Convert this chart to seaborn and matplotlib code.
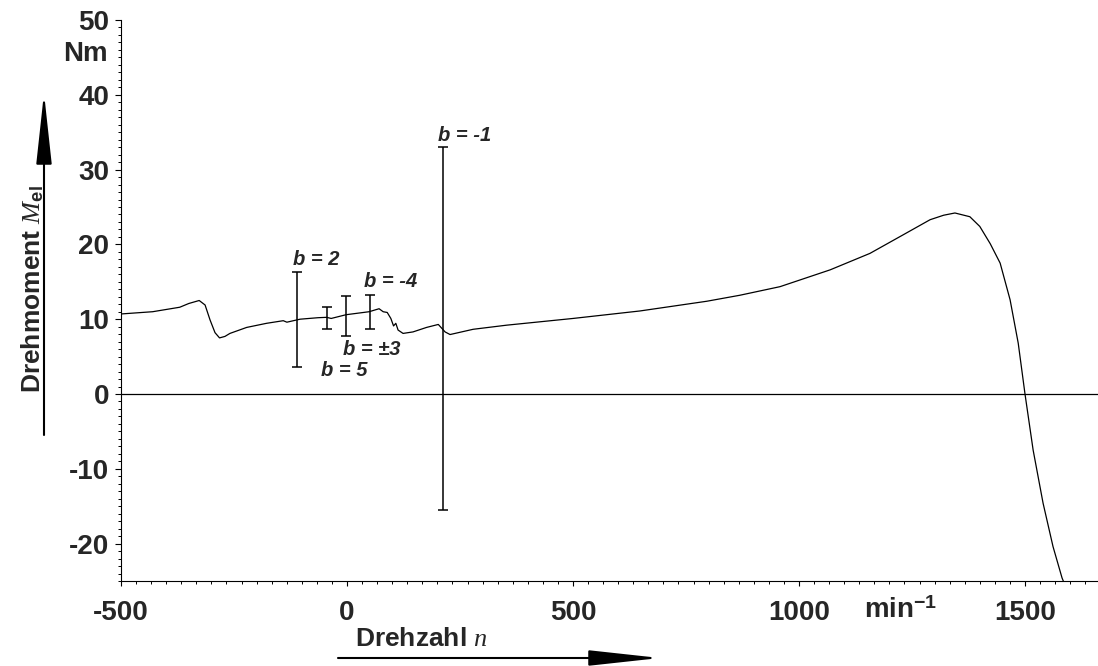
import numpy as np
import pandas as pd
import matplotlib
matplotlib.use('Agg')
import matplotlib.pyplot as plt
import matplotlib.transforms as mtransforms
from matplotlib.ticker import MultipleLocator
import seaborn as sns

# torque curve M_el over speed n
speed = [-500, -430, -370, -350, -327, -314, -303, -292, -282, -270, -259, -222,
         -178, -141, -133, -104, -64, -45, -35, -2, 49, 71, 80, 89, 97, 103, 108,
         113, 124, 146, 176, 202, 217, 228, 279, 353, 500, 648, 796, 869, 958,
         1069, 1157, 1231, 1290, 1320, 1345, 1378, 1400, 1423, 1445, 1467, 1485,
         1500, 1518, 1540, 1562, 1582, 1595]
torque = [10.7, 11.0, 11.6, 12.1, 12.5, 11.9, 9.9, 8.2, 7.5, 7.7, 8.1, 8.9,
          9.45, 9.8, 9.6, 10.0, 10.2, 10.25, 10.1, 10.6, 11.0, 11.4, 11.0, 10.9,
          10.1, 9.1, 9.45, 8.55, 8.1, 8.3, 8.9, 9.3, 8.3, 7.95, 8.65, 9.2, 10.1,
          11.1, 12.4, 13.2, 14.35, 16.6, 18.8, 21.3, 23.3, 23.9, 24.2, 23.7, 22.4,
          20.1, 17.5, 12.6, 6.8, 0.0, -7.5, -14.6, -20.4, -24.6, -26.5]

# ranges for the different b values
bar_speed = [-110, -44, -2, 51, 212]
bar_low = [3.6, 8.7, 7.8, 8.7, -15.5]
bar_high = [16.3, 11.6, 13.1, 13.2, 33.0]

# labels of the ranges
b_labels = ['b = 2', 'b = -4', 'b = \u00b13', 'b = 5', 'b = -1']
b_label_x = [-120, 38, -9, -58, 201]
b_label_y = [18.0, 15.1, 5.9, 3.1, 34.6]

y_ticks = [-20, -10, 0, 10, 20, 30, 40, 50]
x_ticks = [-500, 0, 500, 1000, 1500]

sns.set_style('ticks')
plt.rcParams['font.family'] = ['Liberation Sans', 'DejaVu Sans']
plt.rcParams['axes.unicode_minus'] = False
plt.rcParams['mathtext.fontset'] = 'custom'
plt.rcParams['mathtext.rm'] = 'Liberation Sans:bold'
plt.rcParams['mathtext.bf'] = 'Liberation Sans:bold'
plt.rcParams['mathtext.it'] = 'Liberation Serif:italic'

W, H = 1098, 666
fig = plt.figure(figsize=(W / 100, H / 100), dpi=100)
ax = fig.add_axes([121 / W, 85 / H, 977 / W, 561 / H])

df = pd.DataFrame({'n': speed, 'M': torque})
sns.lineplot(data=df, x='n', y='M', ax=ax, color='black', linewidth=0.9,
             sort=False, estimator=None)

ax.axhline(0, color='black', linewidth=0.9)

mid = [(lo + hi) / 2 for lo, hi in zip(bar_low, bar_high)]
half = [(hi - lo) / 2 for lo, hi in zip(bar_low, bar_high)]
ax.errorbar(bar_speed, mid, yerr=half, fmt='none', ecolor='black',
            elinewidth=1.1, capsize=3.5, capthick=1.1)

for lab, lx, ly in zip(b_labels, b_label_x, b_label_y):
    ax.text(lx, ly, lab, fontsize=14.5, fontweight='bold', fontstyle='italic',
            ha='left', va='center')

ax.set_xlim(-500, -500 + 977 / 0.452)
ax.set_ylim(-25, 50)
ax.set_xticks(x_ticks)
ax.set_yticks(y_ticks)
ax.xaxis.set_minor_locator(MultipleLocator(100 / 3))
ax.yaxis.set_minor_locator(MultipleLocator(1))
ax.tick_params(axis='both', which='major', labelsize=20, width=0.8, color='black')
ax.tick_params(axis='y', which='major', length=4.5, pad=4)
ax.tick_params(axis='x', which='major', length=3.8, pad=10)
ax.tick_params(axis='both', which='minor', length=2.5, width=0.7, color='black')
for lab in ax.get_xticklabels() + ax.get_yticklabels():
    lab.set_fontweight('bold')
ax.set_xlabel('')
ax.set_ylabel('')
sns.despine(ax=ax)
for s in ['left', 'bottom']:
    ax.spines[s].set_linewidth(0.8)
    ax.spines[s].set_color('black')

# unit labels
fig.text(108 / W, 1 - 54 / H, 'Nm', fontsize=20, fontweight='bold',
         ha='right', va='center')
trans = mtransforms.blended_transform_factory(ax.transData, fig.transFigure)
ax.text(1225, 1 - 618 / H, r'min$^{\mathbf{-1}}$', transform=trans, fontsize=20,
        fontweight='bold', ha='center', va='baseline')

# axis titles with arrows
fig.text(40 / W, 1 - 393 / H, r'Drehmoment $\mathit{M}_{\mathbf{el}}$', fontsize=19,
         fontweight='bold', rotation=90, ha='left', va='baseline',
         rotation_mode='anchor')
fig.text(355 / W, 1 - 646 / H, r'Drehzahl $\mathit{n}$', fontsize=19,
         fontweight='bold', ha='left', va='baseline')

arrow = dict(arrowstyle='-|>,head_length=2.2,head_width=0.24', color='black',
             linewidth=1.5, mutation_scale=20, shrinkA=0, shrinkB=0)
fig.add_artist(matplotlib.patches.FancyArrowPatch(
    (44 / W, 1 - 435 / H), (44 / W, 1 - 93 / H), transform=fig.transFigure, **arrow))
fig.add_artist(matplotlib.patches.FancyArrowPatch(
    (338 / W, 1 - 658 / H), (660 / W, 1 - 658 / H), transform=fig.transFigure, **arrow))

fig.savefig('out.png', dpi=100)
